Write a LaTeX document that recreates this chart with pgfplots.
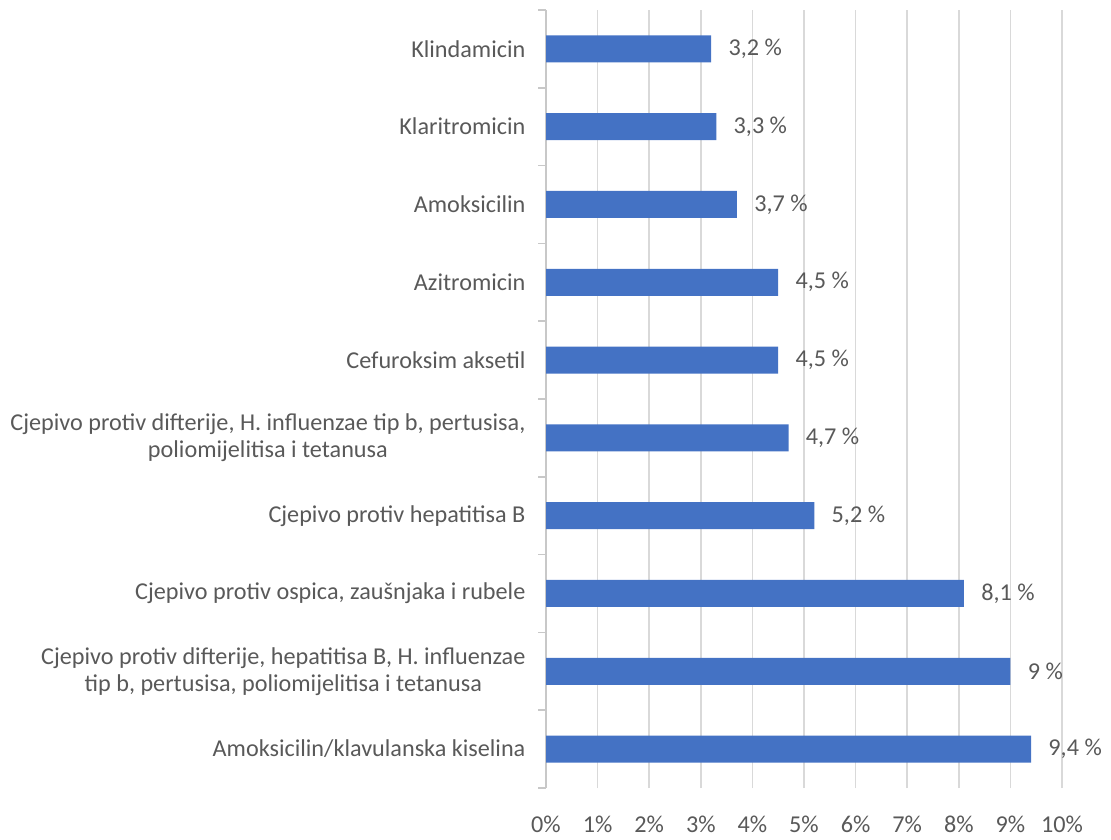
\documentclass[border=0pt]{standalone}
\usepackage{pgfplots}
\usepackage{pgfplotstable}
\pgfplotsset{compat=1.18}
\usepackage{fontspec}
\setmainfont{Carlito}
\definecolor{barblue}{HTML}{4472C4}
\definecolor{txtgray}{HTML}{595959}
\definecolor{gridgray}{HTML}{D9D9D9}
\definecolor{axgray}{HTML}{C8C8C8}
\pgfplotstableread[col sep=semicolon]{
y;x;lab
0;9.4;9,4 \%
1;9.0;9 \%
2;8.1;8,1 \%
3;5.2;5,2 \%
4;4.7;4,7 \%
5;4.5;4,5 \%
6;4.5;4,5 \%
7;3.7;3,7 \%
8;3.3;3,3 \%
9;3.2;3,2 \%
}\data
\begin{document}
\begin{tikzpicture}[x=1pt,y=1pt]
\path (0,0) rectangle (555.5,414.5);
\begin{axis}[
  at={(273pt,20.5pt)}, anchor=south west,
  scale only axis, width=258pt, height=389pt,
  xmin=0, xmax=10, ymin=-0.5, ymax=9.5,
  xbar, bar width=13.5pt,
  axis lines*=left,
  x axis line style={draw=none},
  y axis line style={draw=axgray, line width=0.75pt},
  xtick={0,1,...,10},
  xticklabels={0\%,1\%,2\%,3\%,4\%,5\%,6\%,7\%,8\%,9\%,10\%},
  major x tick style={draw=none},
  xmajorgrids, grid style={draw=gridgray, line width=0.75pt},
  ytick={0,...,9},
  major y tick style={draw=none},
  minor ytick={-0.5,0.5,...,9.5},
  minor y tick style={draw=axgray, line width=0.75pt},
  minor tick length=4pt, tick align=outside,
  yticklabels={
    {Amoksicilin/klavulanska kiselina},
    {Cjepivo protiv difterije, hepatitisa B, H. influenzae\\tip b, pertusisa, poliomijelitisa i tetanusa},
    {Cjepivo protiv ospica, zaušnjaka i rubele},
    {Cjepivo protiv hepatitisa B},
    {Cjepivo protiv difterije, H. influenzae tip b, pertusisa,\\poliomijelitisa i tetanusa},
    {Cefuroksim aksetil},
    {Azitromicin},
    {Amoksicilin},
    {Klaritromicin},
    {Klindamicin}},
  yticklabel style={align=center, font=\fontsize{12.1}{13.5}\selectfont, text=txtgray, xshift=-2.5pt},
  xticklabel style={font=\fontsize{12.1}{13.5}\selectfont, text=txtgray, yshift=-6pt},
  nodes near coords,
  point meta=explicit symbolic,
  every node near coord/.style={font=\fontsize{12.1}{13.5}\selectfont, text=txtgray, anchor=west, inner sep=0pt, xshift=8.5pt},
  clip=false,
]
\addplot[fill=barblue, draw=none] table[x=x, y=y, meta=lab] {\data};
\end{axis}
\end{tikzpicture}
\end{document}
